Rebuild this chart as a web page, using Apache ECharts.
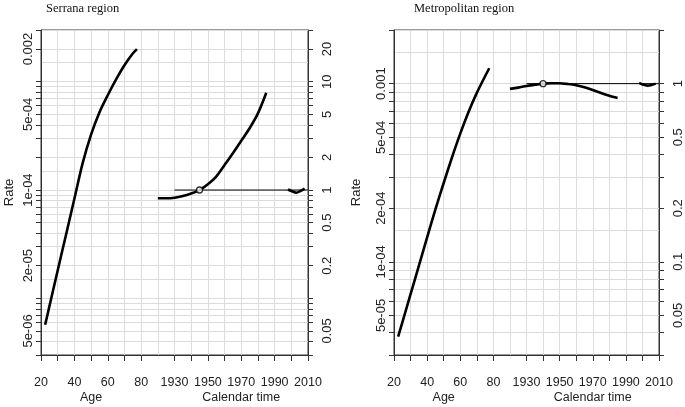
<!DOCTYPE html>
<html><head><meta charset="utf-8">
<script src="https://cdn.jsdelivr.net/npm/echarts@6/dist/echarts.min.js"></script>
<style>html,body{margin:0;padding:0;background:#fff}#c{width:685px;height:407px}</style>
</head><body><div id="c"></div>
<script>
// ---- Serrana region ----
const serranaAge = [22.5, 25, 30, 35, 40, 45, 50, 55, 60, 65, 70, 75, 77.5];
const serranaAgeRate = [5.7e-6, 8.4e-6, 1.81e-5, 3.87e-5, 8.3e-5, 1.78e-4, 3.25e-4, 5.2e-4, 7.5e-4, 1.05e-3, 1.42e-3, 1.82e-3, 2.0e-3];
const serranaCohortYear = [1920, 1925, 1930, 1935, 1940, 1945, 1950, 1955, 1960, 1965, 1970, 1975, 1980, 1985];
const serranaCohortRR = [0.84, 0.84, 0.85, 0.88, 0.93, 1.0, 1.13, 1.33, 1.70, 2.18, 2.85, 3.72, 5.1, 7.9];
const serranaPeriodYear = [1998, 2000, 2003, 2005, 2008];
const serranaPeriodRR = [1.01, 0.98, 0.945, 0.97, 1.03];
const serranaRefYear = 1945;

// ---- Metropolitan region ----
const metroAge = [22.5, 25, 30, 35, 40, 45, 50, 55, 60, 65, 70, 75, 77.5];
const metroAgeRate = [3.8e-5, 4.56e-5, 6.58e-5, 9.48e-5, 1.37e-4, 1.97e-4, 2.77e-4, 3.85e-4, 5.24e-4, 6.93e-4, 8.87e-4, 1.10e-3, 1.22e-3];
const metroCohortYear = [1920, 1925, 1930, 1935, 1940, 1945, 1950, 1955, 1960, 1965, 1970, 1975, 1980, 1985];
const metroCohortRR = [0.935, 0.95, 0.97, 0.985, 1.0, 1.005, 1.005, 0.995, 0.98, 0.955, 0.92, 0.885, 0.855, 0.83];
const metroPeriodYear = [1998, 2000, 2003, 2005, 2008];
const metroPeriodRR = [1.01, 0.99, 0.975, 0.98, 1.0];
const metroRefYear = 1940;

// ---- reference line (RR = 1) ----
const refLineYear = [1930, 2010];
const refLineRR = [1, 1];

// ---- axes ----
const ageTicks = [20, 30, 40, 50, 60, 70, 80];
const ageTickLabels = [20, 40, 60, 80];
const yearTicks = [1930, 1940, 1950, 1960, 1970, 1980, 1990, 2000, 2010];
const yearTickLabels = [1930, 1950, 1970, 1990, 2010];
const serranaRateLabels = [0.002, 5e-4, 1e-4, 2e-5, 5e-6];
const serranaRRLabels = [20, 10, 5, 2, 1, 0.5, 0.2, 0.05];
const metroRateLabels = [0.001, 5e-4, 2e-4, 1e-4, 5e-5];
const metroRRLabels = [1, 0.5, 0.2, 0.1, 0.05];
const serranaRateRange = [3e-6, 3e-3];
const serranaRRRange = [0.03, 30];
const metroRateRange = [3e-5, 2e-3];
const metroRRRange = [0.03, 2];
const minorMantissa = [1, 2, 3, 4, 5, 6, 7, 8, 9];
const gridMantissa = [1, 1.5, 2, 3, 4, 5, 6, 7, 8, 9];

function logValues(mant, lo, hi) {
  const out = [];
  for (let k = -8; k <= 3; k++) {
    for (const m of mant) {
      const v = +(m * Math.pow(10, k)).toPrecision(6);
      if (v >= lo * 0.9999 && v <= hi * 1.0001) out.push(v);
    }
  }
  return out;
}
function zip(a, b) { return a.map((x, i) => [x, b[i]]); }
function fmtRate(v) {
  if (v >= 0.001 - 1e-12) return String(+v.toPrecision(3));
  const s = Number(v).toExponential(0);
  return s.replace(/e([+-])(\d)$/, 'e$10$2');
}
function fmtRR(v) { return String(+Number(v).toPrecision(3)); }
function fmtInt(v) { return String(Math.round(v)); }

const FS = "'Liberation Sans', Arial, sans-serif";
const FN = "'Liberation Sans Narrow', 'Liberation Sans', Arial, sans-serif";
const axisCol = '#333';
const textCol = '#222';
const gridCol = '#dcdcdc';

const grids = [
  {left: 41, right: 377, top: 30, bottom: 52},
  {left: 394, right: 26, top: 30, bottom: 52}
];

function xAxesFor(g) {
  return [
    {type: 'value', gridIndex: g, position: 'bottom', min: 20, max: 180, interval: 10,
     axisLine: {show: true, lineStyle: {color: axisCol}},
     axisTick: {show: true, length: 6, customValues: ageTicks, lineStyle: {color: axisCol}},
     axisLabel: {show: true, customValues: ageTickLabels, margin: 21, fontSize: 12.5, color: textCol, fontFamily: FN, formatter: fmtInt},
     splitLine: {show: false}},
    {type: 'value', gridIndex: g, position: 'bottom', min: 1850, max: 2010, interval: 10,
     axisLine: {show: false},
     axisTick: {show: true, length: 6, customValues: yearTicks, lineStyle: {color: axisCol}},
     axisLabel: {show: true, customValues: yearTickLabels, margin: 21, fontSize: 12.5, color: textCol, fontFamily: FN, formatter: fmtInt},
     splitLine: {show: false}},
    {type: 'value', gridIndex: g, position: 'bottom', min: 20, max: 180, interval: 10,
     axisLine: {show: false}, axisTick: {show: false}, axisLabel: {show: false},
     splitLine: {show: true, lineStyle: {color: gridCol, width: 1}}}
  ];
}
function yAxesFor(g, rateRange, rateLabels, rrRange, rrLabels, nameGap) {
  return [
    {type: 'log', logBase: 10, gridIndex: g, position: 'left', min: rateRange[0], max: rateRange[1],
     name: 'Rate', nameLocation: 'middle', nameGap: nameGap,
     nameTextStyle: {fontSize: 13, color: textCol, fontFamily: FS},
     axisLine: {show: true, lineStyle: {color: axisCol}},
     axisTick: {show: true, length: 5, customValues: logValues(minorMantissa, rateRange[0], rateRange[1]), lineStyle: {color: axisCol}},
     axisLabel: {show: true, customValues: rateLabels, rotate: 90, margin: 6, fontSize: 13, color: textCol, fontFamily: FS, formatter: fmtRate},
     splitLine: {show: false}, z: 5},
    {type: 'log', logBase: 10, gridIndex: g, position: 'right', min: rrRange[0], max: rrRange[1],
     axisLine: {show: true, lineStyle: {color: axisCol}},
     axisTick: {show: true, length: 5, customValues: logValues(minorMantissa, rrRange[0], rrRange[1]), lineStyle: {color: axisCol}},
     axisLabel: {show: true, customValues: rrLabels, rotate: 90, margin: 13, fontSize: 13, color: textCol, fontFamily: FS, formatter: fmtRR},
     splitLine: {show: false}, z: 5},
    {type: 'log', logBase: 10, gridIndex: g, position: 'left', min: rateRange[0], max: rateRange[1],
     axisLine: {show: false}, axisLabel: {show: false},
     axisTick: {show: false, customValues: logValues(gridMantissa, rateRange[0], rateRange[1])},
     splitLine: {show: true, lineStyle: {color: gridCol, width: 1}}, z: 0}
  ];
}

function panelSeries(xBase, yBase, age, ageRate, cYear, cRR, pYear, pRR, refYear) {
  const thick = {color: '#000', width: 2.6};
  return [
    {type: 'line', xAxisIndex: xBase, yAxisIndex: yBase, data: zip(age, ageRate), showSymbol: false, smooth: 0.3, lineStyle: thick, z: 3},
    {type: 'line', xAxisIndex: xBase + 1, yAxisIndex: yBase + 1, data: zip(refLineYear, refLineRR), showSymbol: false, lineStyle: {color: '#000', width: 1}, z: 3},
    {type: 'line', xAxisIndex: xBase + 1, yAxisIndex: yBase + 1, data: zip(cYear, cRR), showSymbol: false, smooth: 0.3, lineStyle: thick, z: 4},
    {type: 'line', xAxisIndex: xBase + 1, yAxisIndex: yBase + 1, data: zip(pYear, pRR), showSymbol: false, smooth: 0.3, lineStyle: thick, z: 4},
    {type: 'scatter', xAxisIndex: xBase + 1, yAxisIndex: yBase + 1, data: [[refYear, 1]], symbol: 'circle', symbolSize: 6,
     itemStyle: {color: '#fff', borderColor: '#000', borderWidth: 1.3}, z: 5}
  ];
}

const chart = echarts.init(document.getElementById('c'), null, {renderer: 'canvas'});
const option = {
  animation: false,
  backgroundColor: '#fff',
  grid: grids.map(g => Object.assign({show: true, borderColor: axisCol, borderWidth: 1, backgroundColor: 'transparent', containLabel: false}, g)),
  xAxis: [...xAxesFor(0), ...xAxesFor(1)],
  yAxis: [
    ...yAxesFor(0, serranaRateRange, serranaRateLabels, serranaRRRange, serranaRRLabels, 25),
    ...yAxesFor(1, metroRateRange, metroRateLabels, metroRRRange, metroRRLabels, 31)
  ],
  series: [
    ...panelSeries(0, 0, serranaAge, serranaAgeRate, serranaCohortYear, serranaCohortRR, serranaPeriodYear, serranaPeriodRR, serranaRefYear),
    ...panelSeries(3, 3, metroAge, metroAgeRate, metroCohortYear, metroCohortRR, metroPeriodYear, metroPeriodRR, metroRefYear)
  ]
};
chart.setOption(option);

function px(axisIdx, v) { return chart.convertToPixel({xAxisIndex: axisIdx}, v); }
const nameY = 398;
const textStyleName = {fontSize: 12.5, fill: textCol, fontFamily: FN, textAlign: 'center', textVerticalAlign: 'middle'};
chart.setOption({
  graphic: [
    {type: 'text', left: 46, top: 2, style: {text: 'Serrana region', fontSize: 12.5, fill: '#111', fontFamily: "'Liberation Serif', 'Times New Roman', serif"}},
    {type: 'text', left: 414, top: 2, style: {text: 'Metropolitan region', fontSize: 12.5, fill: '#111', fontFamily: "'Liberation Serif', 'Times New Roman', serif"}},
    {type: 'text', x: px(0, 50), y: nameY, style: Object.assign({text: 'Age'}, textStyleName)},
    {type: 'text', x: px(1, 1970), y: nameY, style: Object.assign({text: 'Calendar time'}, textStyleName)},
    {type: 'text', x: px(3, 50), y: nameY, style: Object.assign({text: 'Age'}, textStyleName)},
    {type: 'text', x: px(4, 1970), y: nameY, style: Object.assign({text: 'Calendar time'}, textStyleName)}
  ]
});
</script>
</body></html>
